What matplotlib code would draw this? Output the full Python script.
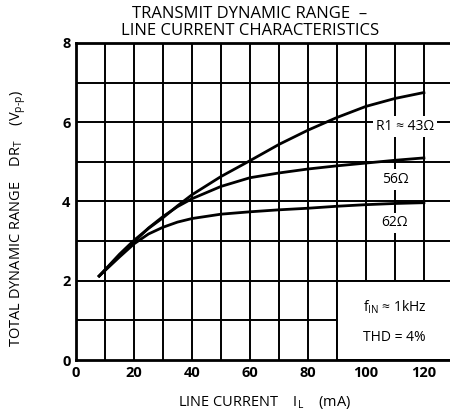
import numpy as np
import matplotlib
matplotlib.use('Agg')
import matplotlib.pyplot as plt
from matplotlib.patches import Rectangle

plt.rcParams['font.family'] = ['Open Sans', 'DejaVu Sans']
plt.rcParams['mathtext.fontset'] = 'custom'
plt.rcParams['mathtext.rm'] = 'Open Sans'

# line current (mA) and dynamic range (Vp-p)
current = [8, 15, 20, 25, 30, 35, 40, 50, 60, 70, 80, 90, 100, 110, 120]
dr_43 = [2.12, 2.67, 3.02, 3.32, 3.59, 3.89, 4.17, 4.63, 5.03, 5.44, 5.8, 6.12, 6.4, 6.6, 6.75]
dr_56 = [2.12, 2.64, 2.98, 3.33, 3.62, 3.87, 4.07, 4.38, 4.6, 4.72, 4.82, 4.9, 4.97, 5.04, 5.1]
dr_62 = [2.12, 2.6, 2.93, 3.18, 3.35, 3.48, 3.57, 3.68, 3.74, 3.79, 3.83, 3.88, 3.92, 3.95, 3.97]

fig = plt.figure(figsize=(4.5, 4.15), dpi=100)
ax = fig.add_axes([76/450, 1-360/415, 1-76/450, (360-43)/415])

ax.set_xlim(0, 129)
ax.set_ylim(0, 8)

# grid
for x in range(10, 130, 10):
    ax.axvline(x, color='k', lw=1.4, zorder=1)
for y in range(1, 8):
    ax.axhline(y, color='k', lw=1.4, zorder=1)

# blank box in the lower right for the conditions
ax.add_patch(Rectangle((90, 0), 45, 2, facecolor='white', edgecolor='k', lw=1.4, zorder=2))

for d in [dr_43, dr_56, dr_62]:
    ax.plot(current, d, color='k', lw=2, zorder=3, solid_joinstyle='round')

box = dict(facecolor='white', edgecolor='none', pad=2)
ax.text(113.5, 5.89, 'R1 \u2248 43\u03a9', ha='center', va='center', fontsize=10, bbox=box, zorder=4)
ax.text(110, 4.55, '56\u03a9', ha='center', va='center', fontsize=10, bbox=box, zorder=4)
ax.text(110, 3.46, '62\u03a9', ha='center', va='center', fontsize=10, bbox=box, zorder=4)
ax.text(99, 1.34, 'f$_{\\mathrm{IN}}$ \u2248 1kHz', ha='left', va='center', fontsize=10, zorder=4)
ax.text(99, 0.58, 'THD = 4%', ha='left', va='center', fontsize=10, zorder=4)

ax.set_xticks(range(0, 121, 20))
ax.set_yticks(range(0, 9, 2))
ax.tick_params(length=0, labelsize=10.5, pad=4)
for lab in ax.get_xticklabels() + ax.get_yticklabels():
    lab.set_fontweight('bold')
for s in ['left', 'bottom', 'top']:
    ax.spines[s].set_linewidth(2)
ax.spines['right'].set_visible(False)

fig.text(250/450, 1-18/415, 'TRANSMIT DYNAMIC RANGE  \u2013', ha='center', va='baseline', fontsize=12)
fig.text(250/450, 1-35/415, 'LINE CURRENT CHARACTERISTICS', ha='center', va='baseline', fontsize=12)
fig.text(265/450, 1-402/415, 'LINE CURRENT    I$_{\\mathrm{L}}$    (mA)', ha='center', va='center', fontsize=10.5)
fig.text(18/450, 1-219/415, 'TOTAL DYNAMIC RANGE    DR$_{\\mathrm{T}}$    (V$_{\\mathrm{p\\text{-}p}}$)',
         ha='center', va='center', rotation=90, fontsize=10.5)

fig.savefig('out.png', dpi=100)
